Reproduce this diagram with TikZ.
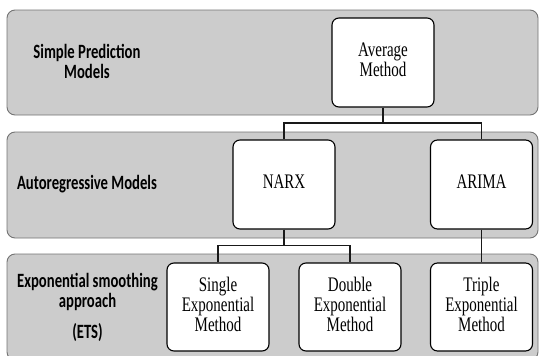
\documentclass[tikz,border=0pt]{standalone}
\usepackage{fontspec}
\setmainfont{Liberation Serif}
\newfontfamily\lblfont{Carlito}
\newcommand{\vstretch}[1]{\scalebox{1}[1.38]{\begin{tabular}{@{}c@{}}#1\end{tabular}}}
\begin{document}
\begin{tikzpicture}[x=1pt,y=-1pt,
  band/.style={draw=black!55, fill=black!20, rounded corners=8pt, line width=0.9pt},
  mbox/.style={draw=black, fill=white, rounded corners=7pt, line width=1.1pt,
    minimum width=102pt, minimum height=89pt, align=center, inner sep=1pt,
    font=\fontsize{15}{13.8}\selectfont},
  lbl/.style={align=center, inner sep=0pt, font=\lblfont\bfseries\fontsize{14.7}{14.5}\selectfont},
  conn/.style={draw=black!90, line width=1.1pt}]
\useasboundingbox (0,0) rectangle (539,356);
% bands
\path[band] (7,10) rectangle (538,115);
\path[band] (7,132) rectangle (538,238);
\path[band] (7,254) rectangle (538,360);
% band labels
\node[lbl] (l1) at (87,64) {\vstretch{Simple Prediction\\Models}};
\node[lbl] (l2) at (87,185) {\vstretch{Autoregressive Models}};
\node[lbl] (l3) at (87.5,309) {\vstretch{Exponential smoothing\\approach\\[7.2pt](ETS)}};
% method boxes
\node[mbox] (avg) at (383,62.5) {\vstretch{Average\\Method}};
\node[mbox] (narx) at (284,184.5) {\vstretch{NARX}};
\node[mbox] (arima) at (481.5,184.5) {\vstretch{ARIMA}};
\node[mbox, minimum height=88pt] (single) at (218,307) {\vstretch{Single\\Exponential\\Method}};
\node[mbox, minimum height=88pt] (double) at (350,307) {\vstretch{Double\\Exponential\\Method}};
\node[mbox, minimum height=88pt] (triple) at (481.5,307) {\vstretch{Triple\\Exponential\\Method}};
% connectors
\coordinate (j1) at (383,123);
\coordinate (j2) at (284,245.5);
\draw[conn] (avg.south) -- (j1);
\draw[conn] (narx.north) |- (j1) -| (arima.north);
\draw[conn] (narx.south) -- (j2);
\draw[conn] (single.north) |- (j2) -| (double.north);
\draw[conn] (arima.south) -- (triple.north);
\end{tikzpicture}
\end{document}
